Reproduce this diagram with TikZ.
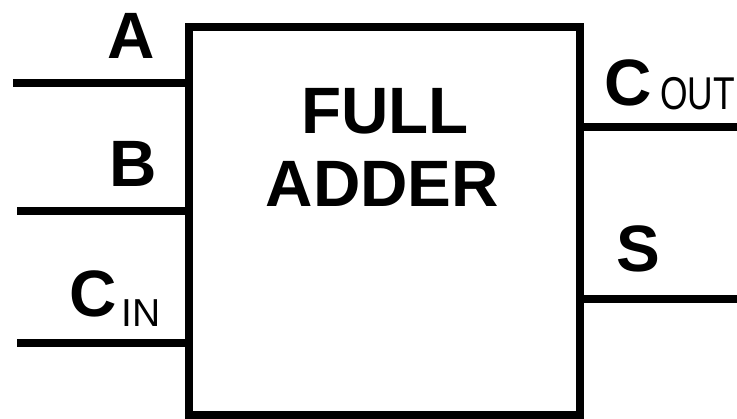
\documentclass[tikz,border=0pt]{standalone}
\usepackage{fontspec}
\setmainfont{Liberation Sans}
\begin{document}
\begin{tikzpicture}[x=1pt,y=-1pt,
  wire/.style={line width=8pt,line cap=butt},
  big/.style={anchor=base,inner sep=0pt,font=\fontsize{65.6}{70}\selectfont\bfseries},
  small/.style={anchor=base,inner sep=0pt,font=\fontsize{39}{42}\selectfont}]
\useasboundingbox (0,0) rectangle (737,419);
\node[draw,line width=8pt,inner sep=0pt,minimum width=391pt,minimum height=388pt] (fa) at (384.5,221) {};
\coordinate (ina) at (13,83);
\coordinate (inb) at (17,211);
\coordinate (inc) at (17,343);
\coordinate (outc) at (737,127);
\coordinate (outs) at (737,299);
\draw[wire] (ina) -- (ina -| fa.west);
\draw[wire] (inb) -- (inb -| fa.west);
\draw[wire] (inc) -- (inc -| fa.west);
\draw[wire] (fa.east |- outc) -- (outc);
\draw[wire] (fa.east |- outs) -- (outs);
\node[big] (la) at (131,59) {A};
\node[big] (lb) at (133,187) {B};
\node[big] (lc) at (93,317) {C};
\node[small] (lin) at (141,327) {IN};
\node[big] (lco) at (628.5,106) {C};
\node[small,font=\fontsize{46}{48}\selectfont,xscale=0.77] (lout) at (697.5,110) {OUT};
\node[big] (ls) at (638.5,272) {S};
\node[big] (l1) at (385,134) {FULL};
\node[big] (l2) at (382.5,207) {ADDER};
\end{tikzpicture}
\end{document}
